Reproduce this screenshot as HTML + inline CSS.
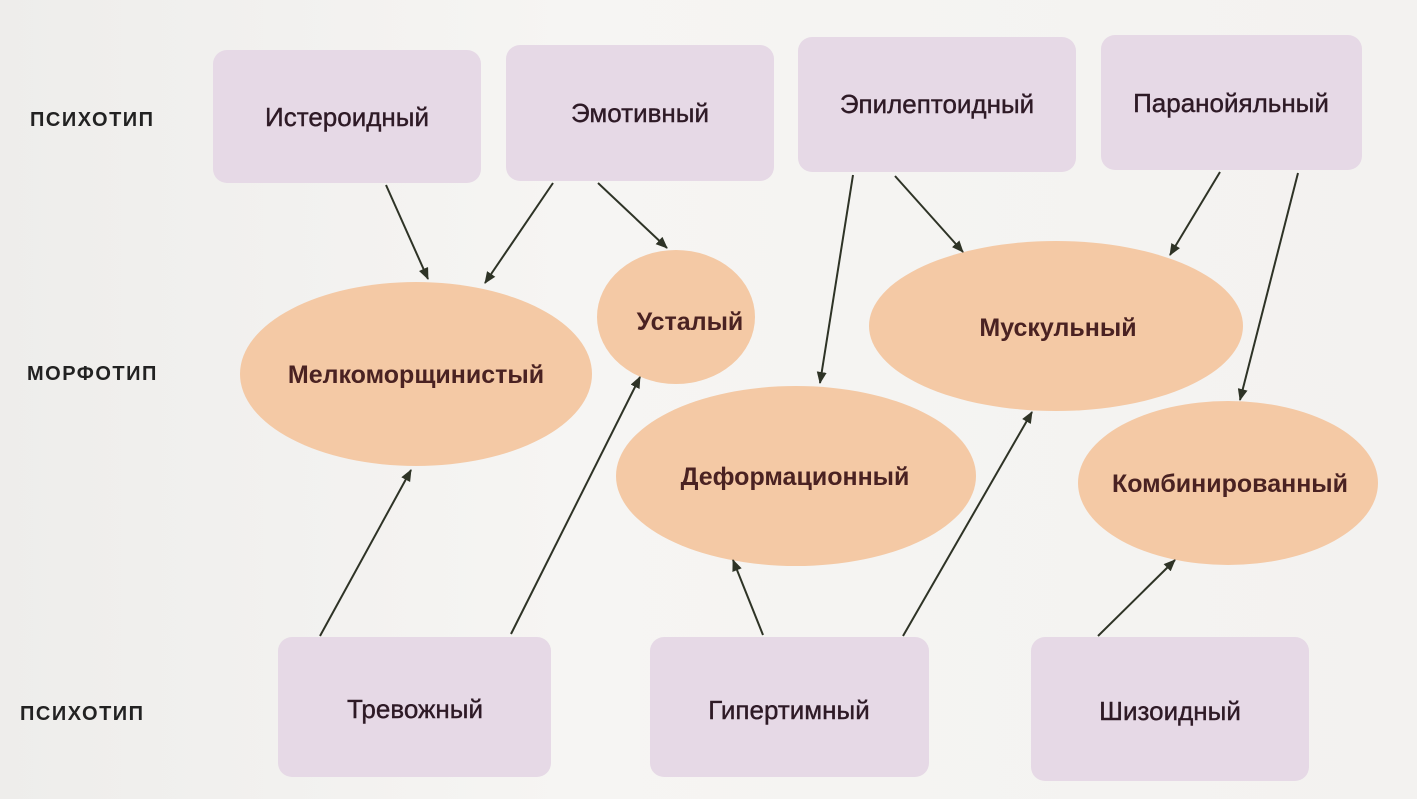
<!DOCTYPE html>
<html><head><meta charset="utf-8"><style>
body{margin:0;width:1417px;height:799px;overflow:hidden;background:linear-gradient(90deg,#eeedeb,#f6f5f3 40%,#f3f2f0);font-family:"Liberation Sans","DejaVu Sans",sans-serif;}
svg{position:absolute;left:0;top:0}
</style></head><body>
<svg width="1417" height="799" viewBox="0 0 1417 799">
<defs><marker id="a" markerWidth="12" markerHeight="10" refX="11" refY="5" orient="auto" markerUnits="userSpaceOnUse"><path d="M0,0 L12,5 L0,10 Z" fill="#2e3326"/></marker></defs>
<g fill="#e6d9e6">
<rect x="213" y="50" width="268" height="133" rx="14"/>
<rect x="506" y="45" width="268" height="136" rx="14"/>
<rect x="798" y="37" width="278" height="135" rx="14"/>
<rect x="1101" y="35" width="261" height="135" rx="14"/>
<rect x="278" y="637" width="273" height="140" rx="14"/>
<rect x="650" y="637" width="279" height="140" rx="14"/>
<rect x="1031" y="637" width="278" height="144" rx="14"/>
</g>
<g fill="#f4c9a5">
<ellipse cx="416" cy="374" rx="176" ry="92"/>
<ellipse cx="676" cy="317" rx="79" ry="67"/>
<ellipse cx="796" cy="476" rx="180" ry="90"/>
<ellipse cx="1056" cy="326" rx="187" ry="85"/>
<ellipse cx="1228" cy="483" rx="150" ry="82"/>
</g>
<g stroke="#2e3326" stroke-width="2" marker-end="url(#a)">
<line x1="386" y1="185" x2="428" y2="279"/>
<line x1="553" y1="183" x2="485" y2="283"/>
<line x1="598" y1="183" x2="667" y2="248"/>
<line x1="853" y1="175" x2="820" y2="383"/>
<line x1="895" y1="176" x2="963" y2="252"/>
<line x1="1220" y1="172" x2="1170" y2="255"/>
<line x1="1298" y1="173" x2="1240" y2="400"/>
<line x1="320" y1="636" x2="411" y2="470"/>
<line x1="511" y1="634" x2="640" y2="377"/>
<line x1="763" y1="635" x2="733" y2="560"/>
<line x1="903" y1="636" x2="1032" y2="412"/>
<line x1="1098" y1="636" x2="1175" y2="560"/>
</g>
<g fill="#2e1a26" font-size="26" text-anchor="middle" stroke="#2e1a26" stroke-width="0.4">
<text x="347" y="126">Истероидный</text>
<text x="640" y="122">Эмотивный</text>
<text x="937" y="113">Эпилептоидный</text>
<text x="1231" y="112">Паранойяльный</text>
<text x="415" y="718">Тревожный</text>
<text x="789" y="719">Гипертимный</text>
<text x="1170" y="720">Шизоидный</text>
</g>
<g fill="#4a2222" font-size="25" font-weight="bold" text-anchor="middle">
<text x="416" y="383">Мелкоморщинистый</text>
<text x="690" y="330">Усталый</text>
<text x="795" y="485">Деформационный</text>
<text x="1058" y="336">Мускульный</text>
<text x="1230" y="492">Комбинированный</text>
</g>
<g fill="#222" font-size="20" font-weight="bold" letter-spacing="1.5">
<text x="30" y="126">ПСИХОТИП</text>
<text x="27" y="380">МОРФОТИП</text>
<text x="20" y="720">ПСИХОТИП</text>
</g>
</svg>
</body></html>
